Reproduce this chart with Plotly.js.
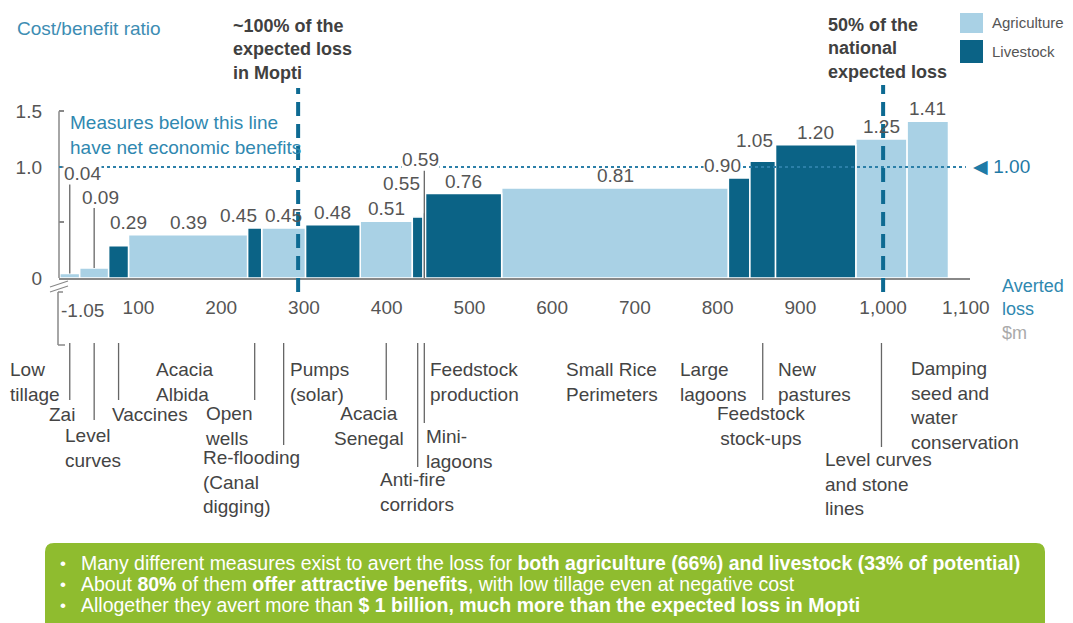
<!DOCTYPE html>
<html><head><meta charset="utf-8">
<script src="https://cdn.plot.ly/plotly-3.0.1.min.js"></script>
<style>html,body{margin:0;padding:0;background:#fff}#chart{width:1073px;height:623px}</style>
</head><body><div id="chart"></div>
<script>
// ---------------- DATA ----------------
const measures = ["Low tillage","Zai","Level curves","Vaccines","Acacia Albida","Open wells",
  "Re-flooding (Canal digging)","Pumps (solar)","Acacia Senegal","Anti-fire corridors","Mini-lagoons",
  "Feedstock production","Small Rice Perimeters","Large lagoons","Feedstock stock-ups","New pastures",
  "Level curves and stone lines","Damping seed and water conservation"];
const measureLabels = ["Low<br>tillage","Zai","Level<br>curves","Vaccines","Acacia<br>Albida","Open<br>wells",
  "Re-flooding<br>(Canal<br>digging)","Pumps<br>(solar)","Acacia<br>Senegal","Anti-fire<br>corridors","Mini-<br>lagoons",
  "Feedstock<br>production","Small Rice<br>Perimeters","Large<br>lagoons","Feedstock<br>stock-ups","New<br>pastures",
  "Level curves<br>and stone<br>lines","Damping<br>seed and<br>water<br>conservation"];
const sectors = ["Agriculture","Agriculture","Agriculture","Livestock","Agriculture","Livestock",
  "Agriculture","Livestock","Agriculture","Livestock","Livestock",
  "Livestock","Agriculture","Livestock","Livestock","Livestock",
  "Agriculture","Agriculture"];
const avertedLoss = [5,24,35,24,144,17,53,66,63,13,3,92,274,26,31,97,62,50];   // $m
const costBenefit = [-1.05,0.04,0.09,0.29,0.39,0.45,0.45,0.48,0.51,0.55,0.59,0.76,0.81,0.90,1.05,1.20,1.25,1.41];
const xTickVals = [100,200,300,400,500,600,700,800,900,1000,1100];
const xTickText = ["100","200","300","400","500","600","700","800","900","1,000","1,100"];
const yTickVals = [0,0.5,1.0,1.5];
const yTickText = ["0","","1.0","1.5"];
const breakEven = 1.0;
const moptiLoss = 293;
const nationalHalfLoss = 1000;
const summaryLines = [
  "Many different measures exist to avert the loss for <b>both agriculture (66%) and livestock (33% of potential)</b>",
  "About <b>80%</b> of them <b>offer attractive benefits</b>, with low tillage even at negative cost",
  "Allogether they avert more than <b>$ 1 billion, much more than the expected loss in Mopti</b>"];

// ---------------- GEOMETRY / STYLE ----------------
const W=1073,H=623;
const M={l:59,r:103,t:98,b:345};
const plotW=W-M.l-M.r, plotH=H-M.t-M.b;
const XR=[4,1105], YR=[0,1.62];
const pxX = px => (px-M.l)/plotW;          // pixel -> paper x
const pyY = py => (H-M.b-py)/plotH;        // pixel -> paper y
const pxPerY = plotH/(YR[1]-YR[0]);
const FONT = "Liberation Sans, Arial, sans-serif";
const COL = {Agriculture:"#a9d1e5", Livestock:"#0b6386"};
const TEAL = "#2f88b0", GREY="#555555", DARK="#444444";

// cumulative positions from averted loss
const centers=[]; let acc=0;
avertedLoss.forEach(w=>{centers.push(acc+w/2); acc+=w;});

const traces = ["Agriculture","Livestock"].map(s=>{
  const idx = sectors.map((_,i)=>i).filter(i=>sectors[i]===s);
  return {type:"bar", name:s, x:idx.map(i=>centers[i]), y:idx.map(i=>costBenefit[i]),
    width:idx.map(i=>avertedLoss[i]), text:idx.map(i=>measures[i]), textposition:"none",
    marker:{color:COL[s], line:{color:"#ffffff", width:1.5}}, showlegend:false,
    hovertemplate:"%{text}: %{y}<extra></extra>"};
});

const shapes=[], annotations=[];

// y-axis line 0..1.5
shapes.push({type:"line", xref:"paper", yref:"y", x0:0, x1:0, y0:0, y1:1.5, line:{color:"#888", width:1.5}});
// broken axis bracket (negative part)
shapes.push({type:"line", xref:"paper", yref:"paper", x0:pxX(58), x1:pxX(58), y0:pyY(292), y1:pyY(345), line:{color:"#888", width:1.5}});
shapes.push({type:"line", xref:"paper", yref:"paper", x0:pxX(58), x1:pxX(63), y0:pyY(292), y1:pyY(292), line:{color:"#888", width:1.5}});
shapes.push({type:"line", xref:"paper", yref:"paper", x0:pxX(58), x1:pxX(65), y0:pyY(345), y1:pyY(345), line:{color:"#888", width:1.5}});
shapes.push({type:"line", xref:"paper", yref:"paper", x0:pxX(50), x1:pxX(68), y0:pyY(287), y1:pyY(281), line:{color:"#888", width:1.2}});
shapes.push({type:"line", xref:"paper", yref:"paper", x0:pxX(50), x1:pxX(68), y0:pyY(292), y1:pyY(286), line:{color:"#888", width:1.2}});

// break-even dotted line
shapes.push({type:"line", xref:"x", yref:"y", x0:XR[0], x1:1100, y0:breakEven, y1:breakEven, layer:"above",
  line:{color:"#2b7fa8", width:2, dash:"3px,3px"}});
// dashed reference lines
[[moptiLoss,88],[nationalHalfLoss,85]].forEach(([xv,top])=>{
  shapes.push({type:"line", xref:"x", yref:"paper", x0:xv, x1:xv, y0:pyY(292), y1:pyY(top), layer:"above",
    line:{color:"#0d6a92", width:4, dash:"14px,8px"}});
});

// value labels
const nudge = {1:{dx:13,dy:88,lead:true,bg:true}, 2:{dx:6,dy:58,lead:true}, 3:{dx:10,dy:11},
  5:{dx:-16,dy:0}, 9:{dx:-16,dy:21}, 10:{dx:-4,dy:40,lead:true,bg:true,fromZero:true},
  13:{dx:-17,dy:0,bg:true}, 14:{dx:-8,dy:8}};
costBenefit.forEach((v,i)=>{
  if(v<0) return;
  const n = nudge[i]||{dx:0,dy:0};
  annotations.push({x:centers[i], y:v, xref:"x", yref:"y", text:v.toFixed(2), showarrow:false,
    yanchor:"bottom", xshift:n.dx, yshift:1+n.dy, font:{family:FONT,size:19,color:GREY},
    bgcolor:n.bg?"#ffffff":"rgba(0,0,0,0)", borderpad:0});
  if(n.lead){
    shapes.push({type:"line", xref:"x", yref:"y", x0:centers[i], x1:centers[i],
      y0:n.fromZero?0:v, y1:v+(n.dy+2)/pxPerY, line:{color:"#666", width:1.3}});
  }
});
// negative value label (broken axis)
annotations.push({xref:"paper", yref:"paper", x:pxX(59), y:pyY(310), xanchor:"left", yanchor:"middle",
  text:costBenefit[0].toFixed(2), showarrow:false, font:{family:FONT,size:19,color:GREY}});

// category labels below axis
const catPos = [
 {x:8,y:382,a:"left"},{x:47,y:414,a:"left"},{x:63,y:448,a:"left"},{x:110,y:414,a:"left"},
 {x:154,y:382,a:"left"},{x:203,y:426,a:"left"},{x:201,y:482,a:"left"},{x:288,y:382,a:"left"},
 {x:369,y:426,a:"center"},{x:378,y:492,a:"left"},{x:424,y:449,a:"left"},{x:428,y:382,a:"left"},
 {x:564,y:382,a:"left"},{x:678,y:382,a:"left"},{x:761,y:426,a:"center"},{x:776,y:382,a:"left"},
 {x:823,y:484,a:"left"},{x:908,y:405,a:"left"}];
measureLabels.forEach((t,i)=>{
  const p=catPos[i];
  annotations.push({xref:"paper", yref:"paper", x:pxX(p.x), y:pyY(p.y), xanchor:p.a, yanchor:"middle",
    align:p.a, text:t, showarrow:false, font:{family:FONT,size:19,color:DARK}});
});
const catLeaderEnd = {1:400,2:420,3:400,5:400,6:445,8:400,9:467,10:423,14:400,16:447};
Object.keys(catLeaderEnd).forEach(k=>{
  const i=+k;
  shapes.push({type:"line", xref:"x", yref:"paper", x0:centers[i], x1:centers[i], y0:pyY(343), y1:pyY(catLeaderEnd[k]),
    line:{color:"#666", width:1.3}});
});

// titles and notes
annotations.push({xref:"paper", yref:"paper", x:pxX(15), y:pyY(28), xanchor:"left", yanchor:"middle",
  text:"Cost/benefit ratio", showarrow:false, font:{family:FONT,size:19,color:"#3d8db3"}});
annotations.push({xref:"paper", yref:"paper", x:pxX(231), y:pyY(49), xanchor:"left", yanchor:"middle", align:"left",
  text:"<b>~100% of the<br>expected loss<br>in Mopti</b>", showarrow:false, font:{family:FONT,size:18,color:"#404040"}});
annotations.push({xref:"paper", yref:"paper", x:pxX(826), y:pyY(48), xanchor:"left", yanchor:"middle", align:"left",
  text:"<b>50% of the<br>national<br>expected loss</b>", showarrow:false, font:{family:FONT,size:18,color:"#404040"}});
annotations.push({xref:"paper", yref:"paper", x:pxX(68), y:pyY(135), xanchor:"left", yanchor:"middle", align:"left",
  text:"Measures below this line<br>have net economic benefits", showarrow:false, font:{family:FONT,size:19,color:TEAL}});
annotations.push({xref:"paper", yref:"y", x:pxX(971), y:breakEven, xanchor:"left", yanchor:"middle",
  text:"◀ 1.00", showarrow:false, font:{family:FONT,size:19,color:"#1f7aa6"}});
annotations.push({xref:"paper", yref:"paper", x:pxX(1000), y:pyY(309), xanchor:"left", yanchor:"middle", align:"left",
  text:"Averted<br>loss<br><span style='color:#aaaaaa'>$m</span>", showarrow:false, font:{family:FONT,size:18,color:TEAL}});

// legend (custom squares)
[["Agriculture",13,33],["Livestock",40,63]].forEach(([s,y0,y1])=>{
  shapes.push({type:"rect", xref:"paper", yref:"paper", x0:pxX(960), x1:pxX(983), y0:pyY(y0), y1:pyY(y1),
    fillcolor:COL[s], line:{width:0}});
  annotations.push({xref:"paper", yref:"paper", x:pxX(990), y:pyY((y0+y1)/2), xanchor:"left", yanchor:"middle",
    text:s, showarrow:false, font:{family:FONT,size:15,color:GREY}});
});

// green summary box
function rr(x0,y0,x1,y1,r){
  const X=pxX, Y=pyY;
  return `M${X(x0+r)},${Y(y0)} L${X(x1-r)},${Y(y0)} Q${X(x1)},${Y(y0)} ${X(x1)},${Y(y0+r)} L${X(x1)},${Y(y1-r)} Q${X(x1)},${Y(y1)} ${X(x1-r)},${Y(y1)} L${X(x0+r)},${Y(y1)} Q${X(x0)},${Y(y1)} ${X(x0)},${Y(y1-r)} L${X(x0)},${Y(y0+r)} Q${X(x0)},${Y(y0)} ${X(x0+r)},${Y(y0)} Z`;
}
shapes.push({type:"path", xref:"paper", yref:"paper", path:rr(45,543,1045,650,9), fillcolor:"#8fbc2f", line:{width:0}, layer:"below"});
summaryLines.forEach((t,k)=>{
  const yc = 563 + k*21;
  annotations.push({xref:"paper", yref:"paper", x:pxX(58), y:pyY(yc), xanchor:"left", yanchor:"middle",
    text:"•", showarrow:false, font:{family:FONT,size:17,color:"#ffffff"}});
  annotations.push({xref:"paper", yref:"paper", x:pxX(79), y:pyY(yc), xanchor:"left", yanchor:"middle", align:"left",
    text:t, showarrow:false, font:{family:FONT,size:19.5,color:"#ffffff"}});
});

const layout = {
  width:W, height:H, margin:M, paper_bgcolor:"#fff", plot_bgcolor:"rgba(0,0,0,0)",
  barmode:"overlay", showlegend:false, font:{family:FONT},
  xaxis:{range:XR, showgrid:false, zeroline:false, showline:true, linecolor:"#888", linewidth:1.5,
    tickvals:xTickVals, ticktext:xTickText, ticks:"", ticklabelstandoff:11,
    tickfont:{family:FONT,size:19,color:GREY}, fixedrange:true},
  yaxis:{range:YR, showgrid:false, zeroline:false, showline:false,
    tickvals:yTickVals, ticktext:yTickText, ticks:"inside", ticklen:5, tickwidth:1.5, tickcolor:"#888",
    ticklabelstandoff:16, tickfont:{family:FONT,size:19,color:GREY}, fixedrange:true},
  shapes:shapes, annotations:annotations
};
Plotly.newPlot("chart", traces, layout, {displayModeBar:false, responsive:false});
</script></body></html>
